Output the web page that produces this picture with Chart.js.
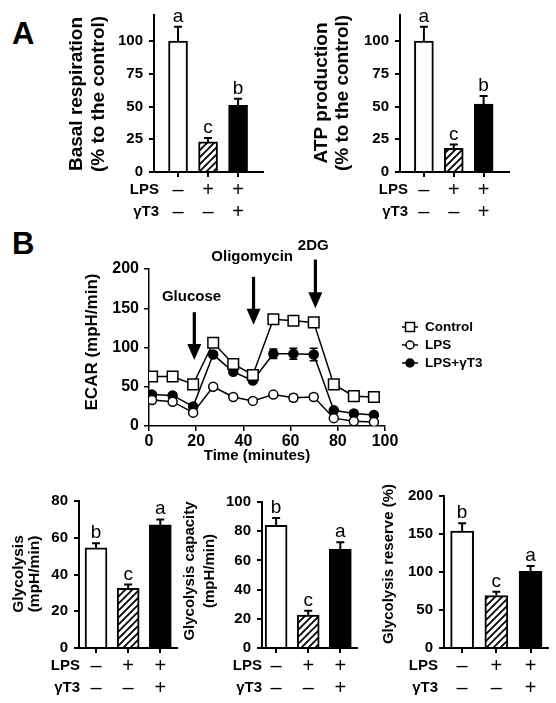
<!DOCTYPE html>
<html>
<head>
<meta charset="utf-8">
<script src="https://cdn.jsdelivr.net/npm/chart.js@4.4.1/dist/chart.umd.min.js"></script>
<style>
  body { margin: 0; background: #fff; }
  #fig { position: relative; width: 556px; height: 703px; font-family: 'Liberation Sans', Arial, sans-serif; }
  canvas { position: absolute; }
  .panel { position: absolute; font-weight: bold; font-size: 31px; line-height: 31px; }
</style>
</head>
<body>
<div id="fig">
  <div class="panel" style="left:12px;top:18px">A</div>
  <div class="panel" style="left:12px;top:228px">B</div>
  <canvas id="basal" width="275" height="225" style="left:0;top:0"></canvas>
  <canvas id="atp" width="280" height="225" style="left:276px;top:0"></canvas>
  <canvas id="ecar" width="556" height="245" style="left:0;top:225px"></canvas>
  <canvas id="glyco" width="185" height="233" style="left:0;top:470px"></canvas>
  <canvas id="capacity" width="192" height="233" style="left:178px;top:470px"></canvas>
  <canvas id="reserve" width="186" height="233" style="left:370px;top:470px"></canvas>
</div>
<script>
const FONT = '"Liberation Sans", Arial, sans-serif';
Chart.defaults.font.family = FONT;
Chart.defaults.color = '#000';

// groups: Control, LPS, LPS+γT3
const groups = [1, 2, 3];
const lpsRow = ['–', '+', '+'];
const gt3Row = ['–', '–', '+'];

const basal = [100, 23, 51];
const basalErr = [11, 3, 5];
const basalLetters = ['a', 'c', 'b'];

const atp = [100, 18, 52];
const atpErr = [11, 3, 6];
const atpLetters = ['a', 'c', 'b'];

const glyco = [54.5, 32.5, 67];
const glycoErr = [2.5, 2, 3];
const glycoLetters = ['b', 'c', 'a'];

const capacity = [84, 22.5, 67.5];
const capacityErr = [5, 3, 5];
const capacityLetters = ['b', 'c', 'a'];

const reserve = [154, 69, 101];
const reserveErr = [10, 5, 7];
const reserveLetters = ['b', 'c', 'a'];

// ECAR time course
const time = [1.3, 10, 18.7, 27.2, 35.7, 44, 52.7, 61.2, 69.8, 78.3, 86.8, 95.3];
const control = [63, 63, 53, 106, 79, 65, 136, 134, 132, 53, 38, 37];
const controlErr = [2, 2, 2, 3, 3, 3, 5, 5, 6, 2, 2, 2];
const lps = [33, 31, 17, 50, 37, 32, 40, 36, 37, 10, 6, 5];
const lpsErr = [1, 1, 1, 2, 1, 1, 2, 4, 4, 1, 1, 1];
const combo = [40, 39, 25, 91, 69, 58, 92, 92, 91, 20, 16, 14];
const comboErr = [2, 2, 2, 3, 2, 2, 6, 7, 8, 2, 1, 1];

const injections = ['Glucose', 'Oligomycin', '2DG'];
const injectionTime = [19.2, 44.3, 70.5];

function hatch() {
  const c = document.createElement('canvas');
  c.width = c.height = 7;
  const g = c.getContext('2d');
  g.fillStyle = '#fff';
  g.fillRect(0, 0, 7, 7);
  g.strokeStyle = '#000';
  g.lineWidth = 1.8;
  g.beginPath();
  g.moveTo(-1, 8); g.lineTo(8, -1);
  g.moveTo(-1, 1); g.lineTo(1, -1);
  g.moveTo(6, 8); g.lineTo(8, 6);
  g.stroke();
  return g.createPattern(c, 'repeat');
}

function barExtras(o) {
  return {
    id: 'extras',
    afterDatasetsDraw(chart) {
      const { ctx, chartArea, scales: { x, y } } = chart;
      ctx.save();
      ctx.strokeStyle = '#000';
      ctx.fillStyle = '#000';
      ctx.lineWidth = 2;
      ctx.font = '19px ' + FONT;
      ctx.textAlign = 'center';
      ctx.textBaseline = 'alphabetic';
      groups.forEach((g, i) => {
        const cx = x.getPixelForValue(g);
        const top = y.getPixelForValue(o.values[i]);
        const end = y.getPixelForValue(o.values[i] + o.errs[i]);
        ctx.beginPath();
        ctx.moveTo(cx, top); ctx.lineTo(cx, end);
        ctx.moveTo(cx - 4, end); ctx.lineTo(cx + 4, end);
        ctx.stroke();
        ctx.fillText(o.letters[i], cx, end - 5);
      });

      ctx.font = 'bold 15px ' + FONT;
      ctx.textAlign = 'right';
      ctx.textBaseline = 'middle';
      ctx.fillText('LPS', o.rowX, chartArea.bottom + 18);
      ctx.fillText('γT3', o.rowX, chartArea.bottom + 40);

      ctx.font = 'bold ' + o.titleSize + 'px ' + FONT;
      ctx.textAlign = 'center';
      o.title.forEach((t, k) => {
        ctx.save();
        ctx.translate(o.titleX[k], o.titleY);
        ctx.rotate(-Math.PI / 2);
        ctx.fillText(t, 0, 0);
        ctx.restore();
      });
      ctx.restore();
    }
  };
}

function drawBars(id, o) {
  const canvas = document.getElementById(id);
  const axisStyle = {
    grid: { drawOnChartArea: false, tickLength: 5, color: '#000', lineWidth: 2, offset: false },
    border: { color: '#000', width: 2 }
  };
  new Chart(canvas, {
    type: 'bar',
    data: {
      datasets: [{
        data: groups.map((g, i) => ({ x: g, y: o.values[i] })),
        backgroundColor: ['#fff', hatch(), '#000'],
        borderColor: '#000',
        borderWidth: 2,
        barThickness: o.barW
      }]
    },
    options: {
      responsive: false,
      animation: false,
      layout: { padding: { top: o.top, right: o.right, left: 0, bottom: 0 } },
      plugins: { legend: { display: false }, tooltip: { enabled: false } },
      scales: {
        x: {
          type: 'linear', min: o.xMin, max: o.xMax, offset: false,
          afterBuildTicks: s => { s.ticks = groups.map(v => ({ value: v })); },
          afterFit: s => { s.height = canvas.height - o.bottom; },
          ticks: {
            callback: (v, i) => [lpsRow[i], gt3Row[i]],
            font: { size: 20, lineHeight: 1.1 }, padding: 2, maxRotation: 0, autoSkip: false
          },
          ...axisStyle
        },
        y: {
          min: 0, max: o.yMax,
          afterFit: s => { s.width = o.axisX; },
          ticks: { stepSize: o.step, includeBounds: false, font: { size: 15, weight: 'bold' }, padding: 6 },
          ...axisStyle
        }
      }
    },
    plugins: [barExtras(o)]
  });
}

drawBars('basal', {
  values: basal, errs: basalErr, letters: basalLetters,
  yMax: 120, step: 25, xMin: 0.2, xMax: 3.83, barW: 19,
  axisX: 154, top: 10, right: 12, bottom: 172, rowX: 159,
  title: ['Basal respiration', '(% to the control)'], titleX: [77, 99], titleY: 94, titleSize: 19
});

drawBars('atp', {
  values: atp, errs: atpErr, letters: atpLetters,
  yMax: 120, step: 25, xMin: 0.2, xMax: 3.85, barW: 19,
  axisX: 124, top: 10, right: 47, bottom: 172, rowX: 132,
  title: ['ATP production', '(% to the control)'], titleX: [46, 67], titleY: 93, titleSize: 19
});

drawBars('glyco', {
  values: glyco, errs: glycoErr, letters: glycoLetters,
  yMax: 80, step: 20, xMin: 0.47, xMax: 3.52, barW: 22,
  axisX: 79, top: 31, right: 8, bottom: 178, rowX: 80,
  title: ['Glycolysis', '(mpH/min)'], titleX: [18.5, 35], titleY: 104, titleSize: 15.5
});

drawBars('capacity', {
  values: capacity, errs: capacityErr, letters: capacityLetters,
  yMax: 100, step: 20, xMin: 0.56, xMax: 3.52, barW: 22,
  axisX: 84, top: 32, right: 13, bottom: 178, rowX: 84,
  title: ['Glycolysis capacity', '(mpH/min)'], titleX: [12, 32], titleY: 101, titleSize: 15
});

drawBars('reserve', {
  values: reserve, errs: reserveErr, letters: reserveLetters,
  yMax: 200, step: 50, xMin: 0.47, xMax: 3.51, barW: 23,
  axisX: 74, top: 26, right: 8, bottom: 178, rowX: 68,
  title: ['Glycolysis reserve (%)'], titleX: [19], titleY: 94, titleSize: 15
});

// ---- ECAR line chart ----
const pts = arr => time.map((t, i) => ({ x: t, y: arr[i] }));
const errs = [controlErr, lpsErr, comboErr];

// arrow annotation spans in data units: [label x, label y, arrow top, arrow tip]
const arrowSpans = [
  [18, 164, 145, 84],
  [43.7, 215, 190, 129],
  [69.6, 230, 212, 150]
];

const ecarExtras = {
  id: 'ecarExtras',
  beforeDatasetsDraw(chart) {
    const { ctx, scales: { x, y } } = chart;
    ctx.save();
    ctx.strokeStyle = '#000';
    ctx.lineWidth = 1.5;
    chart.data.datasets.forEach((ds, d) => {
      ds.data.forEach((p, i) => {
        const cx = x.getPixelForValue(p.x);
        const hi = y.getPixelForValue(p.y + errs[d][i]);
        const lo = y.getPixelForValue(p.y - errs[d][i]);
        ctx.beginPath();
        ctx.moveTo(cx, hi); ctx.lineTo(cx, lo);
        ctx.moveTo(cx - 4, hi); ctx.lineTo(cx + 4, hi);
        ctx.moveTo(cx - 4, lo); ctx.lineTo(cx + 4, lo);
        ctx.stroke();
      });
    });
    ctx.restore();
  },
  afterDraw(chart) {
    const { ctx, scales: { x, y } } = chart;
    ctx.save();
    ctx.fillStyle = '#000';
    ctx.strokeStyle = '#000';

    // injection arrows
    ctx.font = 'bold 15px ' + FONT;
    ctx.textAlign = 'center';
    ctx.textBaseline = 'middle';
    injections.forEach((name, k) => {
      const [lx, ly, top, tip] = arrowSpans[k];
      ctx.fillText(name, x.getPixelForValue(lx), y.getPixelForValue(ly));
      const ax = x.getPixelForValue(injectionTime[k]);
      const yTop = y.getPixelForValue(top);
      const yTip = y.getPixelForValue(tip);
      ctx.lineWidth = 3.2;
      ctx.beginPath();
      ctx.moveTo(ax, yTop); ctx.lineTo(ax, yTip - 14);
      ctx.stroke();
      ctx.beginPath();
      ctx.moveTo(ax - 7, yTip - 16);
      ctx.lineTo(ax + 7, yTip - 16);
      ctx.lineTo(ax, yTip);
      ctx.closePath();
      ctx.fill();
    });

    // legend
    ctx.font = 'bold 13.5px ' + FONT;
    ctx.textAlign = 'left';
    ctx.lineWidth = 1.5;
    const rows = [102, 120, 138];
    chart.data.datasets.forEach((ds, d) => {
      const my = rows[d], mx = 410;
      ctx.beginPath();
      ctx.moveTo(mx - 8, my); ctx.lineTo(mx + 8, my);
      ctx.stroke();
      ctx.fillStyle = ds.pointBackgroundColor;
      ctx.beginPath();
      if (ds.pointStyle === 'rect') ctx.rect(mx - 4.5, my - 4.5, 9, 9);
      else ctx.arc(mx, my, 4, 0, Math.PI * 2);
      ctx.fill();
      ctx.stroke();
      ctx.fillStyle = '#000';
      ctx.fillText(ds.label, 425, my);
    });

    // axis titles
    ctx.font = 'bold 15px ' + FONT;
    ctx.textAlign = 'center';
    ctx.fillText('Time (minutes)', 257, 231);
    ctx.font = 'bold 17px ' + FONT;
    ctx.save();
    ctx.translate(92.5, 117);
    ctx.rotate(-Math.PI / 2);
    ctx.fillText('ECAR (mpH/min)', 0, 0);
    ctx.restore();
    ctx.restore();
  }
};

const lineSet = (label, arr, style, radius, fill) => ({
  label, data: pts(arr),
  borderColor: '#000', borderWidth: 1.5, tension: 0,
  pointStyle: style, pointRadius: radius,
  pointBackgroundColor: fill, pointBorderColor: '#000', pointBorderWidth: 1.5
});

const ecarCanvas = document.getElementById('ecar');
const lineAxis = {
  grid: { drawOnChartArea: false, tickLength: 5, color: '#000', lineWidth: 1.5 },
  border: { color: '#000', width: 1.5 }
};
new Chart(ecarCanvas, {
  type: 'line',
  data: {
    datasets: [
      lineSet('Control', control, 'rect', 7.5, '#fff'),
      lineSet('LPS', lps, 'circle', 4.5, '#fff'),
      lineSet('LPS+γT3', combo, 'circle', 4.5, '#000')
    ]
  },
  options: {
    responsive: false,
    animation: false,
    layout: { padding: { top: 44, right: 171, left: 0, bottom: 0 } },
    plugins: { legend: { display: false }, tooltip: { enabled: false } },
    scales: {
      x: {
        type: 'linear', min: 0, max: 100,
        afterFit: s => { s.height = 44; },
        ticks: { stepSize: 20, font: { size: 16, weight: 'bold' }, padding: 1, maxRotation: 0 },
        ...lineAxis
      },
      y: {
        min: 0, max: 200,
        afterFit: s => { s.width = 149; },
        ticks: { stepSize: 50, font: { size: 16, weight: 'bold' }, padding: 5 },
        ...lineAxis
      }
    }
  },
  plugins: [ecarExtras]
});
</script>
</body>
</html>
